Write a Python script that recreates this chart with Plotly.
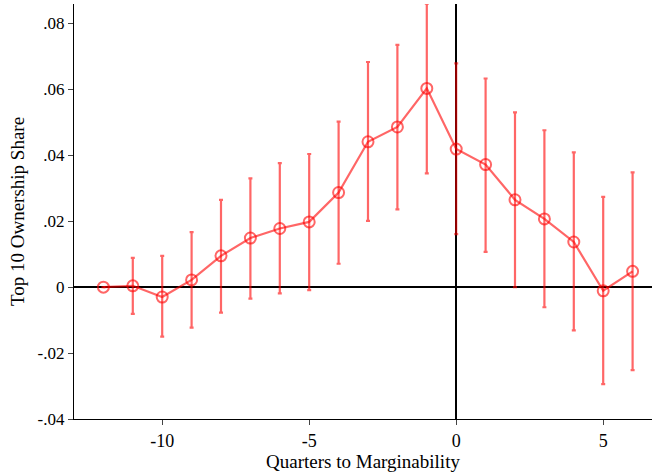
import plotly.graph_objects as go

quarters = [-12, -11, -10, -9, -8, -7, -6, -5, -4, -3, -2, -1, 0, 1, 2, 3, 4, 5, 6]
coef = [0.0, 0.0004, -0.0030, 0.0022, 0.0095, 0.0149, 0.0178, 0.0198, 0.0287, 0.0441,
        0.0486, 0.0603, 0.0419, 0.0372, 0.0265, 0.0207, 0.0137, -0.0011, 0.0048]
ci_hi = [None, 0.0089, 0.0095, 0.0167, 0.0265, 0.0330, 0.0376, 0.0404, 0.0502, 0.0683,
         0.0735, 0.0860, 0.0679, 0.0633, 0.0530, 0.0476, 0.0409, 0.0274, 0.0348]
ci_lo = [None, -0.0081, -0.0150, -0.0123, -0.0077, -0.0035, -0.0019, -0.0009, 0.0071, 0.0201,
         0.0236, 0.0345, 0.0161, 0.0107, 0.0000, -0.0061, -0.0131, -0.0294, -0.0252]
y_ticks = [0.08, 0.06, 0.04, 0.02, 0.0, -0.02, -0.04]
y_tick_labels = [".08", ".06", ".04", ".02", "0", "-.02", "-.04"]
x_ticks = [-10, -5, 0, 5]
x_tick_labels = ["-10", "-5", "0", "5"]

err_plus = [0 if h is None else h - c for h, c in zip(ci_hi, coef)]
err_minus = [0 if l is None else c - l for l, c in zip(ci_lo, coef)]
color = "rgba(255,0,0,0.6)"

FONT = "Liberation Serif"

fig = go.Figure()
fig.add_trace(go.Scatter(
    x=quarters, y=coef, mode="lines+markers",
    line=dict(color=color, width=2.2),
    marker=dict(symbol="circle-open", size=11, color=color, line=dict(width=2, color=color)),
    error_y=dict(type="data", symmetric=False, array=err_plus, arrayminus=err_minus,
                 color=color, thickness=2.2, width=2),
    showlegend=False,
))

fig.update_layout(
    width=652, height=472,
    margin=dict(l=74, r=0, t=4, b=53, autoexpand=False),
    paper_bgcolor="white", plot_bgcolor="white",
    font=dict(family=FONT, size=17, color="black"),
    xaxis=dict(
        range=[-13.0, 6.66], tickvals=x_ticks, ticktext=x_tick_labels,
        ticks="outside", ticklen=5, tickwidth=1.3, automargin=False,
        showline=True, linecolor="black", linewidth=1.3, showgrid=False,
        zeroline=True, zerolinecolor="black", zerolinewidth=1.5,
        title=dict(text="Quarters to Marginability", standoff=0, font=dict(size=19)),
        tickfont=dict(size=18),
    ),
    yaxis=dict(
        range=[-0.04, 0.0859], tickvals=y_ticks, ticktext=y_tick_labels,
        ticks="outside", ticklen=5, tickwidth=1.3, automargin=False,
        showline=True, linecolor="black", linewidth=1.3, showgrid=False,
        zeroline=True, zerolinecolor="black", zerolinewidth=1.5,
        title=dict(text="Top 10 Ownership Share", standoff=7, font=dict(size=19)),
        tickfont=dict(size=17),
    ),
)

fig.write_html("out.html", config={"displayModeBar": False},
               post_script="document.body.style.margin='0';")
